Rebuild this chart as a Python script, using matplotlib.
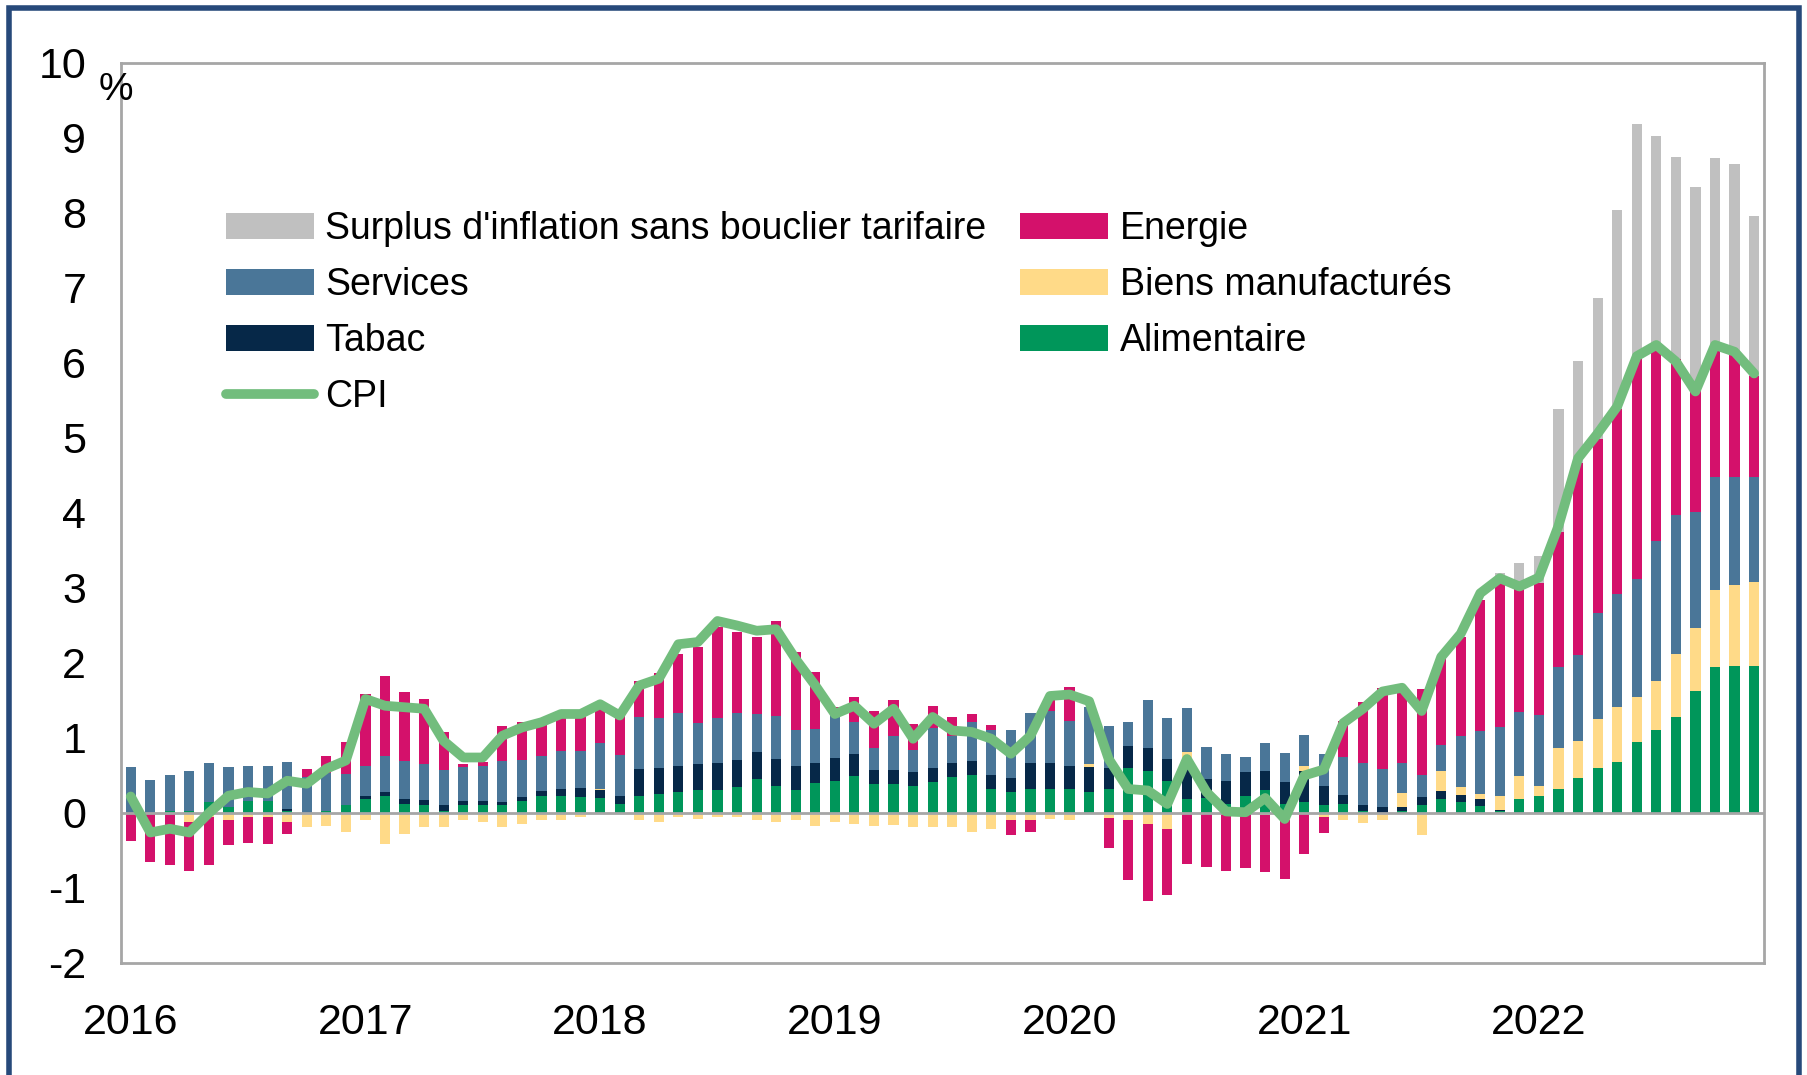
import numpy as np
import matplotlib
matplotlib.use("Agg")
import matplotlib.pyplot as plt
from matplotlib.patches import Rectangle
from matplotlib.lines import Line2D

plt.rcParams['font.family'] = ['Liberation Sans', 'DejaVu Sans']
plt.rcParams['axes.unicode_minus'] = False

# contributions mensuelles, janv. 2016 -> déc. 2022 (points de %)
annees = ['2016', '2017', '2018', '2019', '2020', '2021', '2022']

alimentaire = [0.0, 0.0, 0.03, 0.03, 0.14, 0.08, 0.16, 0.16, 0.03, 0.0, 0.02, 0.1, 0.19, 0.23,
               0.12, 0.11, 0.03, 0.1, 0.1, 0.1, 0.16, 0.23, 0.22, 0.21, 0.2, 0.12, 0.23, 0.25, 0.28,
               0.3, 0.31, 0.34, 0.45, 0.36, 0.31, 0.4, 0.43, 0.49, 0.39, 0.39, 0.36, 0.41, 0.48, 0.5,
               0.32, 0.28, 0.32, 0.32, 0.32, 0.28, 0.32, 0.6, 0.56, 0.43, 0.19, 0.2, 0.12, 0.22, 0.3,
               0.12, 0.15, 0.1, 0.12, 0.03, 0.0, 0.02, 0.1, 0.18, 0.14, 0.09, 0.02, 0.19,
               0.22, 0.32, 0.46, 0.6, 0.68, 0.95, 1.11, 1.28, 1.62, 1.94, 1.96, 1.96]

tabac = [0.0, 0.0, 0.0, 0.0, 0.0, 0.0, 0.0, 0.0, 0.02, 0.0, 0.0, 0.0, 0.03, 0.05,
         0.07, 0.06, 0.08, 0.06, 0.06, 0.05, 0.05, 0.06, 0.1, 0.12, 0.11, 0.11, 0.36, 0.35, 0.34,
         0.35, 0.36, 0.36, 0.36, 0.36, 0.31, 0.27, 0.3, 0.29, 0.18, 0.18, 0.19, 0.19, 0.18, 0.19,
         0.18, 0.19, 0.35, 0.35, 0.3, 0.33, 0.28, 0.29, 0.3, 0.29, 0.5, 0.25, 0.31, 0.32, 0.26,
         0.29, 0.41, 0.26, 0.12, 0.07, 0.08, 0.06, 0.11, 0.11, 0.1, 0.1, 0.02, 0.0,
         0.0, 0.0, 0.0, 0.0, 0.0, 0.0, 0.0, 0.0, 0.0, 0.0, 0.0, 0.0]

biens = [-0.02, -0.02, -0.02, -0.12, -0.05, -0.1, -0.05, -0.05, -0.12, -0.19, -0.17, -0.26, -0.1, -0.41,
         -0.28, -0.19, -0.19, -0.1, -0.12, -0.19, -0.15, -0.09, -0.09, -0.06, 0.01, 0.0, -0.09, -0.12, -0.05,
         -0.08, -0.06, -0.06, -0.09, -0.12, -0.1, -0.17, -0.12, -0.15, -0.17, -0.16, -0.19, -0.19, -0.19, -0.26,
         -0.21, -0.1, -0.1, -0.08, -0.1, 0.04, -0.07, -0.1, -0.15, -0.22, 0.12, -0.02, 0.0, 0.0, -0.03,
         -0.1, 0.06, -0.05, -0.09, -0.14, -0.09, 0.19, -0.3, 0.27, 0.1, 0.06, 0.19, 0.3,
         0.14, 0.54, 0.5, 0.65, 0.73, 0.6, 0.65, 0.84, 0.85, 1.03, 1.08, 1.12]

services = [0.61, 0.44, 0.48, 0.53, 0.53, 0.53, 0.46, 0.47, 0.63, 0.48, 0.51, 0.42, 0.41, 0.48,
            0.5, 0.48, 0.46, 0.45, 0.47, 0.54, 0.5, 0.47, 0.5, 0.5, 0.61, 0.54, 0.69, 0.66, 0.71,
            0.55, 0.6, 0.63, 0.51, 0.57, 0.49, 0.45, 0.63, 0.43, 0.29, 0.46, 0.29, 0.53, 0.37, 0.52,
            0.6, 0.63, 0.66, 0.69, 0.61, 0.76, 0.56, 0.32, 0.64, 0.54, 0.59, 0.43, 0.36, 0.2, 0.37,
            0.39, 0.42, 0.43, 0.51, 0.56, 0.51, 0.39, 0.29, 0.34, 0.68, 0.84, 0.92, 0.86,
            0.95, 1.08, 1.14, 1.42, 1.51, 1.57, 1.87, 1.85, 1.54, 1.51, 1.44, 1.4]

energie = [-0.36, -0.63, -0.67, -0.66, -0.64, -0.33, -0.35, -0.36, -0.16, 0.11, 0.23, 0.43, 0.96, 1.07,
           0.92, 0.87, 0.51, 0.04, 0.05, 0.47, 0.5, 0.49, 0.52, 0.49, 0.5, 0.53, 0.48, 0.6, 0.79,
           1.01, 1.21, 1.08, 1.03, 1.27, 1.03, 0.76, 0.05, 0.33, 0.5, 0.47, 0.35, 0.29, 0.25, 0.11,
           0.07, -0.19, -0.15, 0.16, 0.45, 0.0, -0.4, -0.8, -1.02, -0.88, -0.68, -0.7, -0.78, -0.74, -0.76,
           -0.78, -0.55, -0.22, 0.47, 0.82, 1.08, 1.01, 1.15, 1.18, 1.32, 1.75, 1.97, 1.63,
           1.76, 1.81, 2.56, 2.32, 2.47, 2.93, 2.59, 2.08, 1.65, 1.71, 1.64, 1.34]

surplus = [0.0] * 70 + [0.08, 0.35,
           0.35, 1.63, 1.36, 1.88, 2.65, 3.14, 2.8, 2.69, 2.68, 2.54, 2.53, 2.14]

cpi = [0.22, -0.26, -0.21, -0.26, 0.0, 0.23, 0.28, 0.26, 0.43, 0.39, 0.59, 0.7, 1.52, 1.43,
       1.41, 1.39, 0.96, 0.74, 0.74, 1.03, 1.14, 1.21, 1.32, 1.32, 1.45, 1.3, 1.7, 1.79, 2.25,
       2.28, 2.56, 2.5, 2.43, 2.45, 2.05, 1.7, 1.32, 1.43, 1.19, 1.39, 0.99, 1.28, 1.1, 1.08,
       0.99, 0.79, 1.03, 1.56, 1.58, 1.49, 0.72, 0.32, 0.3, 0.12, 0.72, 0.28, 0.02, 0.01, 0.2,
       -0.08, 0.5, 0.58, 1.2, 1.39, 1.62, 1.67, 1.36, 2.08, 2.39, 2.93, 3.13, 3.02,
       3.14, 3.83, 4.73, 5.06, 5.42, 6.09, 6.24, 6.02, 5.62, 6.24, 6.15, 5.86]

series = [
    ("Alimentaire", alimentaire, '#00965a'),
    ("Tabac", tabac, '#062848'),
    ("Biens manufacturés", biens, '#ffda88'),
    ("Services", services, '#4a7698'),
    ("Energie", energie, '#d4116b'),
    ("Surplus d'inflation sans bouclier tarifaire", surplus, '#c0c0c0'),
]

x = np.arange(len(cpi))

fig = plt.figure(figsize=(18.08, 10.75), dpi=100)
ax = fig.add_axes([0.0669, 0.1042, 0.9087, 0.8372])

bas_pos = np.zeros(len(x))
bas_neg = np.zeros(len(x))
for nom, vals, coul in series:
    v = np.array(vals)
    pos = np.clip(v, 0, None)
    neg = np.clip(v, None, 0)
    ax.bar(x, pos, 0.52, bottom=bas_pos, color=coul, linewidth=0, zorder=2)
    ax.bar(x, neg, 0.52, bottom=bas_neg, color=coul, linewidth=0, zorder=2)
    bas_pos += pos
    bas_neg += neg

ax.plot(x, cpi, color='#72bd7d', lw=7, solid_joinstyle='round', solid_capstyle='round', zorder=4)
ax.axhline(0, color='#a6a6a6', lw=2, zorder=3)

ax.set_xlim(-0.5, 83.5)
ax.set_ylim(-2, 10)
ax.set_yticks(range(-2, 11))
ax.set_xticks(np.arange(0, 84, 12))
ax.set_xticklabels(annees)
ax.tick_params(axis='both', length=0, labelsize=31)
ax.tick_params(axis='y', pad=25)
ax.tick_params(axis='x', pad=29)
for s in ax.spines.values():
    s.set_color('#a6a6a6')
    s.set_linewidth(2)

fig.text(0.0545, 0.916, '%', fontsize=28, ha='left', va='center')

# légende sur deux colonnes
couleurs = {nom: coul for nom, vals, coul in series}
h = lambda n: Rectangle((0, 0), 1, 1, color=couleurs[n], linewidth=0)
poignees = [h("Surplus d'inflation sans bouclier tarifaire"), h("Services"), h("Tabac"),
            Line2D([], [], color='#72bd7d', lw=7, solid_capstyle='round'),
            h("Energie"), h("Biens manufacturés"), h("Alimentaire")]
noms = ["Surplus d'inflation sans bouclier tarifaire", "Services", "Tabac", "CPI",
        "Energie", "Biens manufacturés", "Alimentaire"]
leg = ax.legend(poignees, noms, ncol=2, loc='upper left', bbox_to_anchor=(0.064, 0.835),
                frameon=False, fontsize=27, handlelength=2.35, handletextpad=0.3,
                labelspacing=0.53, columnspacing=0.9, borderpad=0, borderaxespad=0)

# cadre bleu autour du graphique
fig.patches.append(Rectangle((0.005, -0.05), 0.99, 1.043, transform=fig.transFigure,
                             fill=False, edgecolor='#27497a', linewidth=4))

fig.savefig('out.png', dpi=100)
